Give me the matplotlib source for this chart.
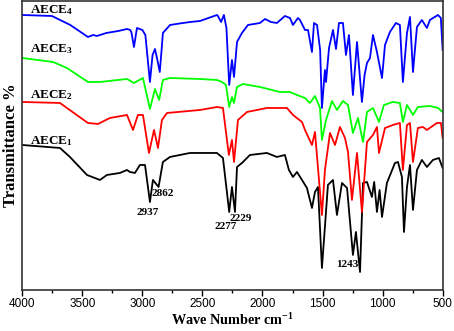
import numpy as np
import matplotlib
matplotlib.use('Agg')
import matplotlib.pyplot as plt
from matplotlib.ticker import MultipleLocator

plt.rcParams.update({
    'font.family': 'Liberation Sans',
    'mathtext.fontset': 'custom',
    'mathtext.rm': 'Liberation Serif:bold',
    'mathtext.bf': 'Liberation Serif:bold',
    'mathtext.it': 'Liberation Serif:bold',
})

# FTIR spectra (wavenumber, transmittance in arbitrary offset units)
wn_aece4 = [4000, 3753, 3600, 3453, 3410, 3378, 3300, 3200, 3128, 3100, 3090, 3070, 3045, 3000,
            2975, 2937, 2915, 2895, 2875, 2855, 2840, 2829, 2770, 2662, 2600, 2520, 2450, 2379,
            2371, 2345, 2321, 2300, 2277, 2254, 2237, 2212, 2171, 2121, 2021, 1979, 1930, 1880,
            1813, 1771, 1746, 1705, 1688, 1646, 1621, 1588, 1571, 1546, 1520, 1505, 1490, 1480,
            1471, 1446, 1413, 1388, 1363, 1330, 1305, 1280, 1247, 1213, 1172, 1150, 1130, 1105,
            1080, 1047, 1005, 980, 939, 889, 856, 831, 797, 772, 747, 714, 673, 631, 606, 539,
            515, 500]
t_aece4 = [275, 274, 265, 253, 255, 254, 257, 259, 261, 260, 257, 243, 262, 260,
           255, 208, 235, 241, 230, 218, 240, 257, 265, 267, 268, 269, 272, 275,
           274, 268, 275, 262, 205, 230, 213, 248, 257, 265, 267, 271, 268, 267,
           274, 272, 265, 272, 270, 260, 260, 238, 267, 265, 240, 182, 205, 220,
           208, 242, 260, 241, 267, 267, 235, 255, 195, 248, 188, 215, 227, 232,
           255, 238, 212, 245, 258, 267, 265, 208, 257, 273, 218, 263, 270, 262, 270, 275,
           272, 240]

wn_aece3 = [4000, 3744, 3628, 3453, 3353, 3128, 3070, 2995, 2937, 2895, 2860, 2829, 2770, 2520,
            2379, 2337, 2304, 2277, 2254, 2237, 2212, 2162, 2021, 1855, 1771, 1713, 1646, 1605,
            1563, 1521, 1505, 1471, 1421, 1380, 1330, 1288, 1247, 1205, 1163, 1130, 1080, 1030,
            989, 914, 856, 831, 797, 747, 706, 606, 539, 500]
t_aece3 = [232, 228, 222, 208, 208, 211, 207, 212, 181, 201, 190, 210, 212, 211,
           210, 208, 205, 183, 193, 187, 203, 206, 203, 198, 198, 195, 192, 187,
           194, 182, 150, 170, 189, 180, 189, 185, 157, 172, 148, 178, 182, 168,
           185, 188, 187, 168, 185, 175, 183, 184, 182, 178]

wn_aece2 = [4000, 3686, 3628, 3453, 3370, 3270, 3128, 3078, 3037, 2995, 2945, 2903, 2870, 2837,
            2795, 2520, 2379, 2329, 2280, 2254, 2237, 2204, 2129, 1963, 1796, 1746, 1671, 1646,
            1588, 1563, 1505, 1480, 1438, 1396, 1355, 1313, 1288, 1255, 1213, 1172, 1130, 1080,
            1047, 1030, 980, 914, 856, 831, 797, 772, 747, 706, 664, 631, 548, 514, 500]
t_aece2 = [188, 187, 182, 167, 166, 172, 175, 160, 175, 175, 137, 160, 142, 170,
           177, 180, 183, 182, 135, 150, 128, 170, 178, 182, 182, 175, 168, 160,
           145, 158, 75, 120, 157, 145, 163, 152, 138, 90, 137, 78, 148, 155,
           163, 137, 162, 165, 167, 120, 165, 167, 128, 162, 163, 160, 167, 167, 152]

wn_aece1 = [4000, 3686, 3603, 3461, 3353, 3295, 3187, 3128, 3103, 3062, 3020, 2978, 2937, 2912,
            2865, 2829, 2770, 2604, 2379, 2329, 2277, 2254, 2229, 2212, 2171, 2104, 1963, 1880,
            1813, 1780, 1746, 1713, 1671, 1630, 1588, 1563, 1538, 1505, 1455, 1413, 1380, 1338,
            1296, 1247, 1222, 1188, 1163, 1130, 1089, 1070, 1047, 1025, 1005, 964, 897, 872,
            839, 822, 797, 772, 747, 714, 673, 631, 581, 531, 500]
t_aece1 = [145, 142, 133, 115, 110, 115, 117, 120, 118, 117, 125, 125, 88, 110,
           103, 128, 133, 137, 137, 132, 78, 103, 78, 123, 127, 135, 137, 133,
           135, 120, 113, 118, 110, 102, 82, 98, 103, 22, 105, 110, 75, 107,
           102, 35, 58, 18, 107, 108, 93, 108, 78, 100, 73, 107, 127, 128,
           113, 58, 103, 125, 80, 120, 130, 123, 130, 132, 122]

series = [
    (wn_aece1, t_aece1, '#000000'),
    (wn_aece2, t_aece2, '#ff0000'),
    (wn_aece3, t_aece3, '#00ff00'),
    (wn_aece4, t_aece4, '#0000ff'),
]

labels = [r'$\mathbf{AECE_1}$', r'$\mathbf{AECE_2}$', r'$\mathbf{AECE_3}$', r'$\mathbf{AECE_4}$']
label_y = [149, 195, 241, 280]

peak_text = ['2937', '2862', '2277', '2229', '1243']
peak_x = [2953, 2829, 2304, 2179, 1297]
peak_y = [77, 96, 63, 71, 25]

fig = plt.figure(figsize=(4.54, 3.31), dpi=100)
ax = fig.add_axes([0.049, 0.124, 0.926, 0.873])

for wn, t, c in series:
    ax.plot(wn, t, color=c, lw=1.3, solid_joinstyle='round')

for lab, y in zip(labels, label_y):
    ax.text(3935, y, lab, fontsize=9.5, ha='left', va='center')

for s, x, y in zip(peak_text, peak_x, peak_y):
    ax.text(x, y, s, fontsize=8, ha='center', va='center',
            family='Liberation Serif', fontweight='bold')

ax.set_xlim(4000, 500)
ax.set_ylim(0, 289)
ax.xaxis.set_major_locator(MultipleLocator(500))
ax.xaxis.set_minor_locator(MultipleLocator(250))
ax.tick_params(axis='x', which='major', direction='out', length=4, width=1, labelsize=8.5, pad=2)
ax.tick_params(axis='x', which='minor', direction='out', length=2.5, width=1)
ax.tick_params(axis='x', top=False)
ax.set_yticks([])
for sp in ax.spines.values():
    sp.set_color('#333333')
    sp.set_linewidth(1.2)

ax.set_xlabel('Wave Number cm$^{-1}$', family='Liberation Serif', fontweight='bold',
              fontsize=10.3, labelpad=1)
ax.set_ylabel('Transmittance %', family='Liberation Serif', fontweight='bold',
              fontsize=12, labelpad=2)

fig.savefig('out.png', dpi=100)
